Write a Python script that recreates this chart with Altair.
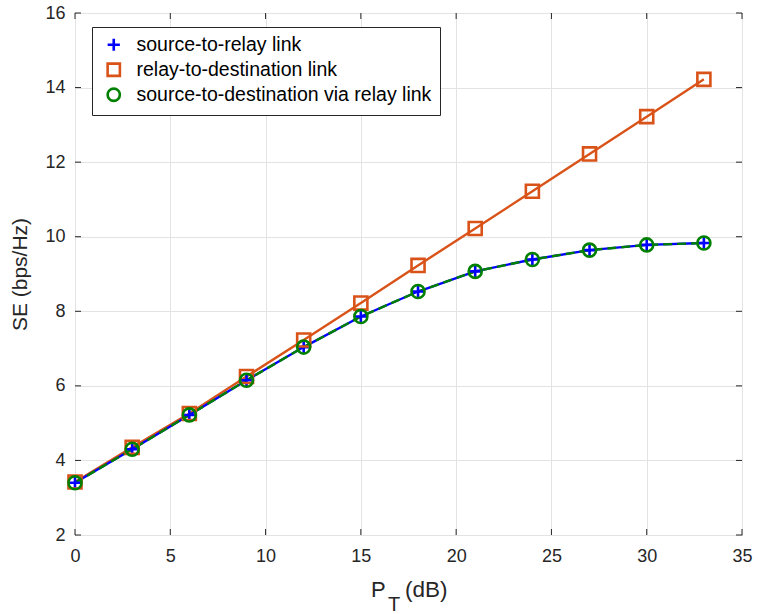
import altair as alt
import pandas as pd

# ---- data ----
pt = [0, 3, 6, 9, 12, 15, 18, 21, 24, 27, 30, 33]
se_sr = [3.40, 4.30, 5.22, 6.15, 7.04, 7.86, 8.53, 9.07, 9.39, 9.64, 9.78, 9.83]
se_rd = [3.42, 4.35, 5.26, 6.25, 7.23, 8.22, 9.23, 10.22, 11.22, 12.22, 13.22, 14.22]
se_sd = [3.40, 4.30, 5.22, 6.15, 7.04, 7.86, 8.53, 9.07, 9.39, 9.64, 9.78, 9.83]
series = ["source-to-relay link", "relay-to-destination link",
          "source-to-destination via relay link"]
x_ticks = [0, 5, 10, 15, 20, 25, 30, 35]
y_ticks = [2, 4, 6, 8, 10, 12, 14, 16]

colors = ["#0000FF", "#D95319", "#008000"]
plus_path = "M-1,0L1,0M0,-1L0,1"
shapes = [plus_path, "square", "circle"]
FONT = "Liberation Sans"
AX = "#262626"
W, H = 667, 522

rows = []
for name, vals in zip(series, [se_sr, se_rd, se_sd]):
    for x, y in zip(pt, vals):
        rows.append({"pt": x, "se": y, "series": name})
df = pd.DataFrame(rows)

xscale = alt.Scale(domain=[0, 35], nice=False, zero=False)
yscale = alt.Scale(domain=[2, 16], nice=False, zero=False)
x_axis = alt.Axis(values=x_ticks, title=None, labelPadding=12, format="d",
                  labelFlush=False)
y_axis = alt.Axis(values=y_ticks, title="SE (bps/Hz)", labelPadding=10,
                  titlePadding=14, format="d", labelFlush=False)

x_enc = alt.X("pt:Q", scale=xscale, axis=x_axis)
y_enc = alt.Y("se:Q", scale=yscale, axis=y_axis)

base = alt.Chart(df)

line_rd = base.transform_filter(alt.datum.series == series[1]).mark_line(
    color=colors[1], strokeWidth=2.4).encode(x=x_enc, y=y_enc)
line_sr = base.transform_filter(alt.datum.series == series[0]).mark_line(
    color=colors[0], strokeWidth=2.4).encode(x=x_enc, y=y_enc)
line_sd = base.transform_filter(alt.datum.series == series[2]).mark_line(
    color=colors[2], strokeWidth=2.4, strokeDash=[9, 5]).encode(x=x_enc, y=y_enc)

leg = alt.Legend(title=None, orient="none", legendX=17, legendY=14,
                 strokeColor=AX, fillColor="white", padding=8,
                 labelFontSize=19.5, labelFont=FONT, labelColor="black", labelLimit=0,
                 symbolStrokeWidth=2.6, symbolSize=150, rowPadding=1,
                 labelOffset=13, symbolOffset=4, cornerRadius=0)

points = base.mark_point(filled=False, strokeWidth=2.6, size=170, opacity=1).encode(
    x=x_enc, y=y_enc,
    color=alt.Color("series:N", scale=alt.Scale(domain=series, range=colors), legend=leg),
    shape=alt.Shape("series:N", scale=alt.Scale(domain=series, range=shapes), legend=leg),
)

# inside tick marks (MATLAB style box ticks)
xt = pd.DataFrame({"pt": x_ticks})
yt = pd.DataFrame({"se": y_ticks})
tx = alt.X("pt:Q", scale=xscale, axis=x_axis)
ty = alt.Y("se:Q", scale=yscale, axis=y_axis)
tick_b = alt.Chart(xt).mark_rule(color=AX, strokeWidth=1).encode(
    x=tx, y=alt.value(H), y2=alt.value(H - 6))
tick_t = alt.Chart(xt).mark_rule(color=AX, strokeWidth=1).encode(
    x=tx, y=alt.value(0), y2=alt.value(6))
tick_l = alt.Chart(yt).mark_rule(color=AX, strokeWidth=1).encode(
    y=ty, x=alt.value(0), x2=alt.value(6))
tick_r = alt.Chart(yt).mark_rule(color=AX, strokeWidth=1).encode(
    y=ty, x=alt.value(W), x2=alt.value(W - 6))

# x-axis title with subscript: P_T (dB)
def txt(s, x, y, size):
    return alt.Chart(pd.DataFrame({"t": [s]})).mark_text(
        align="left", baseline="alphabetic", font=FONT, fontSize=size, color=AX
    ).encode(text="t:N", x=alt.value(x), y=alt.value(y))

t_p = txt("P", 296, 584, 22)
t_t = txt("T", 313, 598, 20)
t_db = txt("(dB)", 330, 584, 22.5)

chart = alt.layer(
    line_rd, line_sr, line_sd, points, tick_b, tick_t, tick_l, tick_r, t_p, t_t, t_db
).properties(
    width=W, height=H,
    padding={"left": 75, "top": 13, "right": 16, "bottom": 79},
    autosize=alt.AutoSizeParams(type="none"),
    background="white",
).configure_view(
    stroke=AX, strokeWidth=1
).configure_axis(
    grid=True, gridColor="#e3e3e3", gridWidth=1, domain=False, ticks=False,
    labelFont=FONT, labelFontSize=18, labelColor=AX,
    titleFont=FONT, titleFontSize=21, titleFontWeight="normal", titleColor=AX,
)

chart.save("out.html", embed_options={"renderer": "svg", "actions": False})
